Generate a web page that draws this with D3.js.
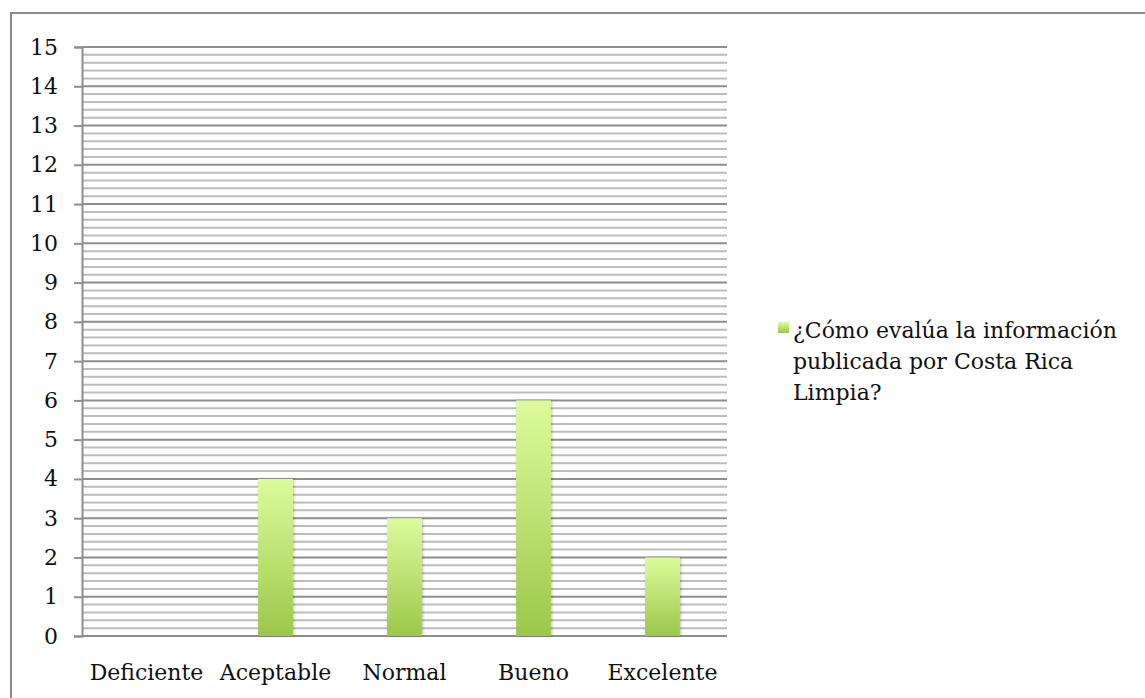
<!DOCTYPE html>
<html>
<head>
<meta charset="utf-8">
<script src="https://cdnjs.cloudflare.com/ajax/libs/d3/7.8.5/d3.min.js"></script>
<style>
  html, body { margin: 0; padding: 0; background: #fff; }
  svg { display: block; }
  text { font-family: "DejaVu Serif", serif; fill: #111; }
</style>
</head>
<body>
<svg id="chart" width="1145" height="698"></svg>
<script>
// Survey answers per rating
const categories = ["Deficiente", "Aceptable", "Normal", "Bueno", "Excelente"];
const values = [0, 4, 3, 6, 2];
const seriesName = "¿Cómo evalúa la información publicada por Costa Rica Limpia?";
const legendLines = ["¿Cómo evalúa la información", "publicada por Costa Rica", "Limpia?"];
const yTicks = d3.range(0, 16, 1);
const yMinorTicks = d3.range(0, 15.01, 0.2);

const svg = d3.select("#chart");
const W = 1145, H = 698;
const m = { left: 82, right: 727, top: 47, bottom: 636 };

// Outer frame (only top and left edges fall inside the view)
svg.append("path")
  .attr("d", `M11,${H + 5} L11,13 L${W + 5},13`)
  .attr("fill", "none").attr("stroke", "#8c8c8c").attr("stroke-width", 2);

const x = d3.scaleBand().domain(categories).range([m.left, m.right]).paddingInner(0.73).paddingOuter(0.365);
const y = d3.scaleLinear().domain([0, 15]).range([m.bottom, m.top]);

// Minor gridlines
svg.append("g").selectAll("line")
  .data(yMinorTicks.filter(v => Math.abs(v - Math.round(v)) > 1e-6))
  .join("line")
  .attr("x1", m.left).attr("x2", m.right)
  .attr("y1", d => y(d)).attr("y2", d => y(d))
  .attr("stroke", "#bdbdbd").attr("stroke-width", 2);

// Major gridlines
svg.append("g").selectAll("line")
  .data(yTicks)
  .join("line")
  .attr("x1", m.left).attr("x2", m.right)
  .attr("y1", d => y(d)).attr("y2", d => y(d))
  .attr("stroke", "#8e8e8e").attr("stroke-width", 2);

// Y axis
const yAxis = svg.append("g")
  .attr("transform", `translate(${m.left},0)`)
  .call(d3.axisLeft(y).tickValues(yTicks).tickSize(8).tickPadding(16).tickFormat(d3.format("d")));
yAxis.select(".domain").attr("stroke", "#8e8e8e").attr("stroke-width", 2);
yAxis.selectAll(".tick line").attr("stroke", "#8e8e8e").attr("stroke-width", 2);
yAxis.selectAll(".tick text").style("font-family", '"DejaVu Serif", serif').style("font-size", "22px").attr("fill", "#111");

// X axis labels
const xAxis = svg.append("g")
  .attr("transform", `translate(0,${m.bottom})`)
  .call(d3.axisBottom(x).tickSize(0).tickPadding(28));
xAxis.select(".domain").remove();
xAxis.selectAll(".tick text").style("font-family", '"DejaVu Serif", serif').style("font-size", "22px").attr("fill", "#111");

// Bar gradient and soft shadow
const defs = svg.append("defs");
const grad = defs.append("linearGradient").attr("id", "barGrad")
  .attr("x1", 0).attr("y1", 0).attr("x2", 0).attr("y2", 1);
grad.append("stop").attr("offset", "0%").attr("stop-color", "#ddfb9c");
grad.append("stop").attr("offset", "100%").attr("stop-color", "#9bc84a");
const shadow = defs.append("filter").attr("id", "shadow").attr("x", "-30%").attr("y", "-10%").attr("width", "160%").attr("height", "120%");
shadow.append("feDropShadow").attr("dx", 1).attr("dy", 0).attr("stdDeviation", 1.5).attr("flood-color", "#000").attr("flood-opacity", 0.25);

svg.append("g").selectAll("rect")
  .data(values.map((v, i) => ({ c: categories[i], v })).filter(d => d.v > 0))
  .join("rect")
  .attr("x", d => x(d.c))
  .attr("y", d => y(d.v))
  .attr("width", x.bandwidth())
  .attr("height", d => y(0) - y(d.v))
  .attr("fill", "url(#barGrad)")
  .attr("filter", "url(#shadow)");

// Legend
const lg = svg.append("g").attr("transform", "translate(778,322)");
lg.append("rect").attr("width", 11).attr("height", 11).attr("fill", "url(#barGrad)");
lg.append("text")
  .attr("x", 15).attr("y", 16)
  .style("font-size", "22px")
  .selectAll("tspan").data(legendLines).join("tspan")
  .attr("x", 15).attr("dy", (d, i) => i === 0 ? 0 : 31)
  .text(d => d);
lg.append("title").text(seriesName);
</script>
</body>
</html>
